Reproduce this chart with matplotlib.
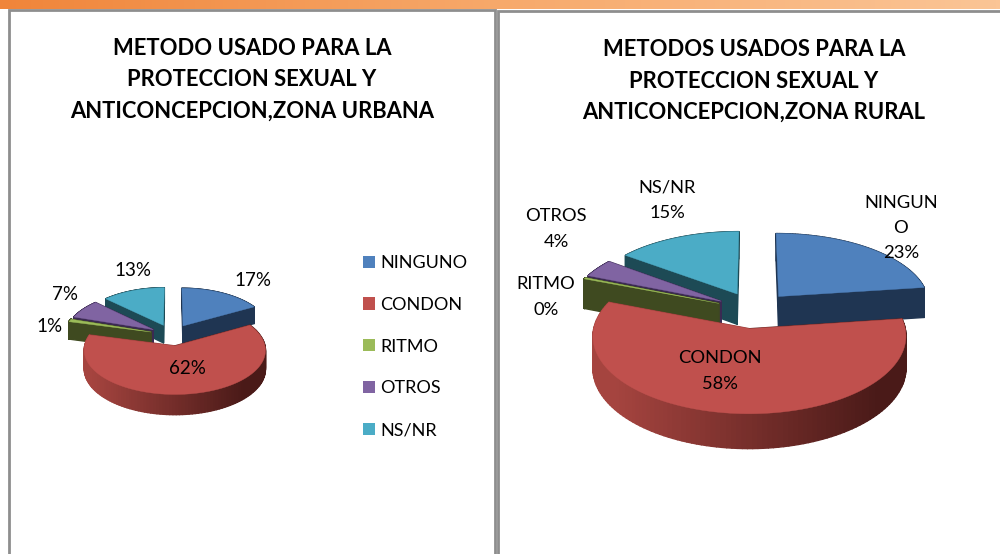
import numpy as np
import matplotlib
matplotlib.use('Agg')
import matplotlib.pyplot as plt
from matplotlib.collections import PolyCollection
from matplotlib.colors import LinearSegmentedColormap
from matplotlib.patches import Patch

plt.rcParams['font.family'] = ['Lato', 'DejaVu Sans']

# Data
categories = ['NINGUNO', 'CONDON', 'RITMO', 'OTROS', 'NS/NR']
urban_values = [17, 62, 1, 7, 13]
rural_values = [23, 58, 0.3, 4, 15]
urban_title = 'METODO USADO PARA LA\nPROTECCION SEXUAL Y\nANTICONCEPCION,ZONA URBANA'
rural_title = 'METODOS USADOS PARA LA\nPROTECCION SEXUAL Y\nANTICONCEPCION,ZONA RURAL'
rural_names = ['NINGUN\nO', 'CONDON', 'RITMO', 'OTROS', 'NS/NR']

# Colours
top_colors = ['#4F81BD', '#C0504D', '#9BBB59', '#8064A2', '#4BACC6']
wall_light = ['#1F3552', '#A5443F', '#3F4A20', '#3B2A52', '#1D4A55']
wall_dark = ['#1F3552', '#4A1A18', '#3F4A20', '#3B2A52', '#1D4A55']
draw_order = [4, 0, 3, 2, 1]  # back to front

# Label positions (pixels)
urban_label_xy = [(253, 281), (187, 368), (49, 326), (65, 295), (133, 271)]
rural_label_xy = [(901, 228), (720, 371), (546, 297), (556, 229), (667, 200)]

W, H = 1000, 554
fig = plt.figure(figsize=(W / 100, H / 100), dpi=100)
ax = fig.add_axes([0, 0, 1, 1])


# squash the flat pie into the tilted view, front gets bigger than back
def project(x, y, geo, drop=0):
    scale = 1 - 0.1 * y
    px = geo['cx'] + x * geo['rx'] * scale
    py = geo['cy'] - (geo['a'] * y + geo['b'] * y * y) + drop * scale
    return px, py


def draw_pie(values, explode, geo):
    wedges, _ = ax.pie(values, explode=[explode] * len(values), startangle=90,
                       counterclock=False, radius=1)
    shapes = []
    for w in wedges:
        t = np.radians(np.linspace(w.theta1, w.theta2, 120))
        xs = np.r_[w.center[0], w.center[0] + w.r * np.cos(t), w.center[0]]
        ys = np.r_[w.center[1], w.center[1] + w.r * np.sin(t), w.center[1]]
        shapes.append((xs, ys))
        w.remove()

    for i in draw_order:
        xs, ys = shapes[i]
        px, py = project(xs, ys, geo)
        bx, by = project(xs, ys, geo, drop=geo['h'])
        cmap = LinearSegmentedColormap.from_list('wall', [wall_light[i], wall_dark[i]])
        quads, cols = [], []
        for k in range(len(px) - 1):
            quads.append([(px[k], py[k]), (px[k + 1], py[k + 1]),
                          (bx[k + 1], by[k + 1]), (bx[k], by[k])])
            frac = (0.5 * (px[k] + px[k + 1]) - geo['cx'] + geo['rx']) / (2 * geo['rx'])
            cols.append(cmap(np.clip(frac * 1.15 - 0.05, 0, 1)))
        ax.add_collection(PolyCollection(quads, facecolors=cols, edgecolors=cols,
                                         linewidths=1.0, zorder=3))
        ax.fill(px, py, color=top_colors[i], lw=0.3, zorder=3)


urban_geo = dict(cx=172, cy=335, rx=88, a=43, b=-3.7, h=18)
rural_geo = dict(cx=754, cy=310, rx=152, a=73.5, b=-7.7, h=31)
draw_pie(urban_values, 0.25, urban_geo)
draw_pie(rural_values, 0.25, rural_geo)

# pie() forces equal aspect and own limits, go back to pixels
ax.set_aspect('auto')
ax.set_xlim(0, W)
ax.set_ylim(H, 0)
ax.axis('off')

# orange strip on top of the slide
strip = LinearSegmentedColormap.from_list('strip', ['#F0853A', '#F7A96B', '#FBC596'])
ax.imshow(np.linspace(0, 1, 256).reshape(1, -1), extent=(0, W, 9, 0), cmap=strip,
          aspect='auto', zorder=1)
ax.set_xlim(0, W)
ax.set_ylim(H, 0)

# panel frames
frame = '#8E8E8E'
ax.plot([9, 9, 494.5, 494.5], [H, 10, 10, H], color=frame, lw=2, solid_joinstyle='miter', zorder=2)
ax.plot([W, 497.5, 497.5], [11, 11, H], color=frame, lw=2, solid_joinstyle='miter', zorder=2)

# titles
for title, xc, y0 in [(urban_title, 252, 48.5), (rural_title, 754, 49.5)]:
    for n, line in enumerate(title.split('\n')):
        ax.text(xc, y0 + n * 31.5, line, ha='center', va='center', fontsize=15.85,
                fontweight='bold', color='black', zorder=5)

# slice labels
for v, (x, y) in zip(urban_values, urban_label_xy):
    ax.text(x, y, f'{v:.0f}%', ha='center', va='center', fontsize=13.5, color='black', zorder=5)
for name, v, (x, y) in zip(rural_names, rural_values, rural_label_xy):
    ax.text(x, y, f'{name}\n{v:.0f}%', ha='center', va='center', fontsize=13.2,
            linespacing=1.7, color='black', zorder=5)

# legend
handles = [Patch(facecolor=c, edgecolor='none') for c in top_colors]
ax.legend(handles, categories, loc='upper left', bbox_to_anchor=(363 / W, 1 - 255 / H),
          bbox_transform=ax.transAxes, frameon=False, fontsize=13, labelspacing=1.43,
          handlelength=0.67, handleheight=0.67, handletextpad=0.28, borderpad=0, borderaxespad=0)

fig.savefig('out.png', dpi=100, facecolor='white')
